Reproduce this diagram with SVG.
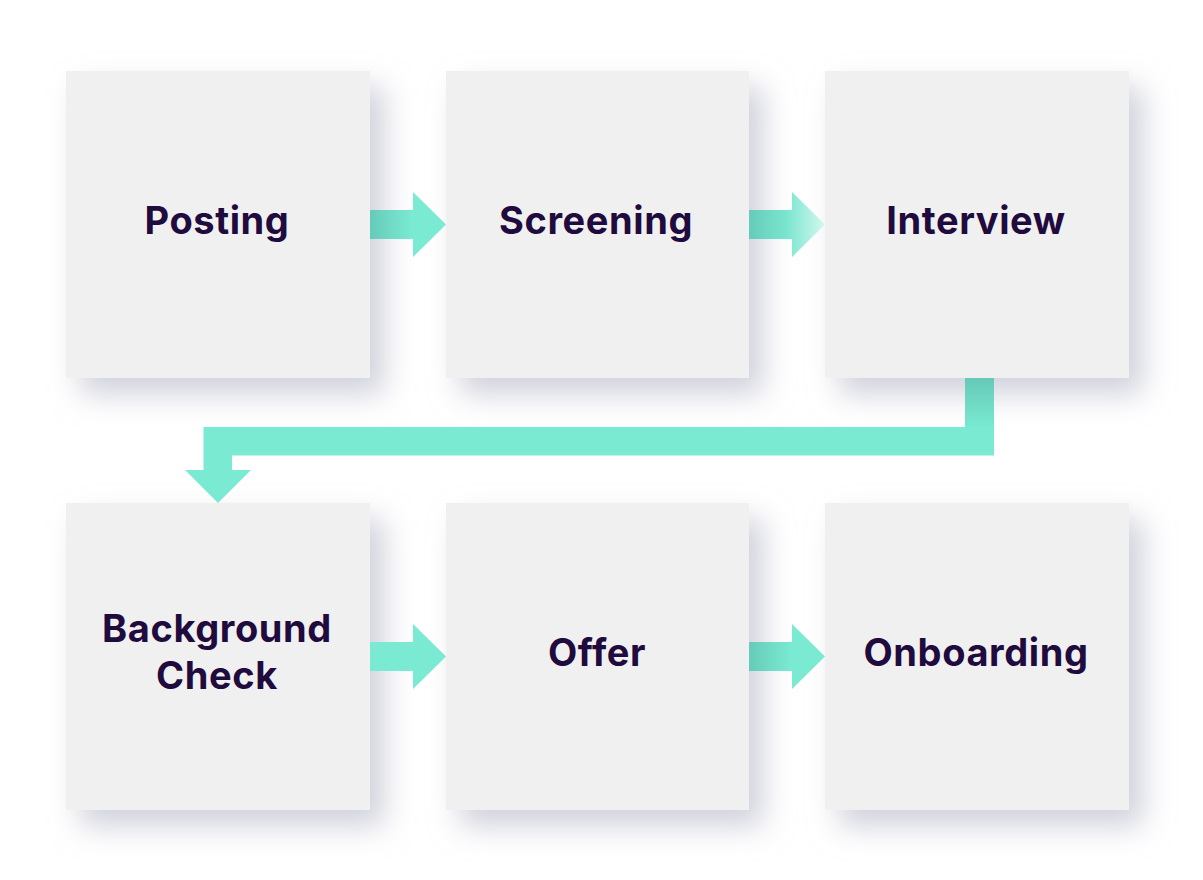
<svg xmlns="http://www.w3.org/2000/svg" width="1203" height="880" viewBox="0 0 1203 880">
<defs>
<filter id="sh" x="-30%" y="-30%" width="170%" height="170%">
<feDropShadow dx="14" dy="16" stdDeviation="15" flood-color="#bfc1cf" flood-opacity="0.75"/>
</filter>
<linearGradient id="ga" x1="0" y1="0" x2="1" y2="0">
<stop offset="0" stop-color="#66cbb9"/>
<stop offset="0.55" stop-color="#7aead2"/>
<stop offset="1" stop-color="#7aead2"/>
</linearGradient>
<linearGradient id="gb" x1="0" y1="0" x2="1" y2="0">
<stop offset="0" stop-color="#66cbb9"/>
<stop offset="0.5" stop-color="#7ae6cf"/>
<stop offset="1" stop-color="#d4f8ef"/>
</linearGradient>
<linearGradient id="gv" x1="0" y1="0" x2="0" y2="1">
<stop offset="0" stop-color="#66c9b8"/>
<stop offset="1" stop-color="#7aead2"/>
</linearGradient>
<style>
.box{fill:#f0f0f1;filter:url(#sh)}
.t{font-family:Inter,"Noto Sans","Liberation Sans",sans-serif;font-weight:700;font-size:38px;letter-spacing:0.6px;fill:#1f0b3d;text-anchor:middle}
</style>
</defs>
<rect width="1203" height="880" fill="#ffffff"/>
<g id="posting"><rect class="box" x="66" y="71" width="304" height="307"/><text class="t" x="217" y="234">Posting</text></g>
<g id="screening"><rect class="box" x="446" y="71" width="303" height="307"/><text class="t" x="596" y="234">Screening</text></g>
<g id="interview"><rect class="box" x="825" y="71" width="304" height="307"/><text class="t" x="976" y="234">Interview</text></g>
<g id="background-check"><rect class="box" x="66" y="503" width="304" height="307"/><text class="t" x="217" y="642">Background</text><text class="t" x="217" y="689">Check</text></g>
<g id="offer"><rect class="box" x="446" y="503" width="303" height="307"/><text class="t" x="597" y="666">Offer</text></g>
<g id="onboarding"><rect class="box" x="825" y="503" width="304" height="307"/><text class="t" x="976" y="666">Onboarding</text></g>
<g id="connectors">
<polygon fill="url(#ga)" points="370,210 413,210 413,192 446,224.5 413,257 413,239 370,239"/>
<polygon fill="url(#gb)" points="749,210 792,210 792,192 825,224.5 792,257 792,239 749,239"/>
<rect x="965" y="378" width="29" height="50" fill="url(#gv)"/>
<polygon fill="#7aead2" points="994,427 994,455.5 232,455.5 232,470 251,470 218,503 185,470 203.5,470 203.5,427"/>
<polygon fill="#7aead2" points="370,642 413,642 413,624 446,656.5 413,689 413,671 370,671"/>
<polygon fill="url(#ga)" points="749,642 792,642 792,624 825,656.5 792,689 792,671 749,671"/>
</g>
</svg>
